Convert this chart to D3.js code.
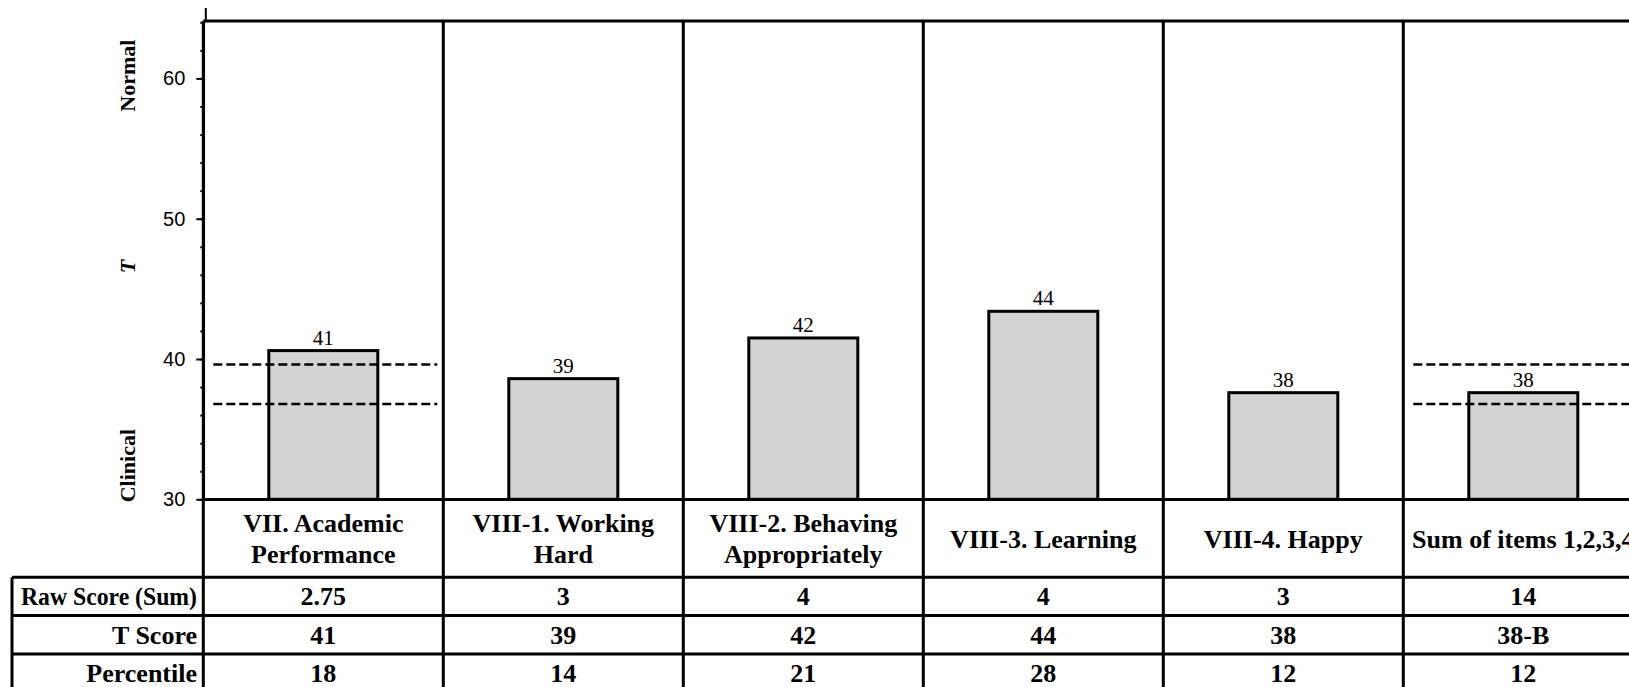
<!DOCTYPE html>
<html>
<head>
<meta charset="utf-8">
<script src="https://cdn.jsdelivr.net/npm/d3@7"></script>
<style>
  body { margin: 0; background: #fff; overflow: hidden; }
  text { fill: #000; }
</style>
</head>
<body>
<div id="chart"></div>
<script>
// data
var categories = [["VII. Academic", "Performance"], ["VIII-1. Working", "Hard"], ["VIII-2. Behaving", "Appropriately"], ["VIII-3. Learning"], ["VIII-4. Happy"], ["Sum of items 1,2,3,4"]];
var barHeights = [40.6, 38.6, 41.5, 43.4, 37.6, 37.6];
var barLabels = ["41", "39", "42", "44", "38", "38"];
var cutoffs = [39.6, 36.8];
var cutoffColumns = [0, 5];
var rowNames = ["Raw Score (Sum)", "T Score", "Percentile"];
var rawScores = ["2.75", "3", "4", "4", "3", "14"];
var tScores = ["41", "39", "42", "44", "38", "38-B"];
var percentiles = ["18", "14", "21", "28", "12", "12"];
var yTicks = [30, 40, 50, 60];
var yMinorTicks = d3.range(30, 65, 2);

var width = 1629, height = 687;
var left = 203.3, colW = 240, plotTop = 21;
var plotBottom = 499.5, labelBottom = 577.3, rowH = 38.3, tableLeft = 12;
var serif = "'Liberation Serif', 'Times New Roman', serif";
var sans = "'Liberation Sans', Arial, sans-serif";

var names = categories.map(function(d) { return d.join(" "); });
var rows = [rawScores, tScores, percentiles];

var x = d3.scaleBand()
    .domain(names)
    .range([left, left + colW * names.length])
    .padding(0);

var y = d3.scaleLinear()
    .domain([30, 64])
    .range([499.3, 22.3]);

var barW = 109;
var rightEdge = left + colW * names.length;

var svg = d3.select("#chart").append("svg")
    .attr("width", width)
    .attr("height", height)
    .style("display", "block");

svg.append("rect").attr("width", width).attr("height", height).attr("fill", "#fff");

// bars
svg.selectAll(".bar")
    .data(names)
    .enter().append("rect")
      .attr("class", "bar")
      .attr("x", function(d) { return x(d) + x.bandwidth() / 2 - barW / 2; })
      .attr("y", function(d, i) { return y(barHeights[i]); })
      .attr("width", barW)
      .attr("height", function(d, i) { return y(30) - y(barHeights[i]); })
      .attr("fill", "#d3d3d3")
      .attr("stroke", "#000")
      .attr("stroke-width", 3);

svg.selectAll(".barlabel")
    .data(names)
    .enter().append("text")
      .attr("class", "barlabel")
      .attr("x", function(d) { return x(d) + x.bandwidth() / 2; })
      .attr("y", function(d, i) { return y(barHeights[i]) - 6; })
      .attr("text-anchor", "middle")
      .style("font-family", serif)
      .style("font-size", "21px")
      .text(function(d, i) { return barLabels[i]; });

// dashed cutoff lines, only first and last column
cutoffColumns.forEach(function(ci) {
  svg.selectAll(null)
      .data(cutoffs)
      .enter().append("line")
        .attr("x1", x(names[ci]) + 10)
        .attr("x2", x(names[ci]) + colW - 6)
        .attr("y1", function(d) { return y(d); })
        .attr("y2", function(d) { return y(d); })
        .attr("stroke", "#000")
        .attr("stroke-width", 2.5)
        .attr("stroke-dasharray", "9,4");
});

// grid frame
var frame = svg.append("g").attr("stroke", "#000").attr("stroke-width", 3);

frame.append("line")
    .attr("x1", left).attr("x2", rightEdge)
    .attr("y1", plotTop).attr("y2", plotTop);

frame.append("line")
    .attr("x1", left).attr("x2", rightEdge)
    .attr("y1", plotBottom).attr("y2", plotBottom);

frame.selectAll(".col")
    .data(names.concat(["end"]))
    .enter().append("line")
      .attr("x1", function(d, i) { return left + i * colW; })
      .attr("x2", function(d, i) { return left + i * colW; })
      .attr("y1", plotTop)
      .attr("y2", height + 5);

frame.selectAll(".row")
    .data(d3.range(rows.length + 1))
    .enter().append("line")
      .attr("x1", tableLeft).attr("x2", rightEdge)
      .attr("y1", function(d) { return labelBottom + d * rowH; })
      .attr("y2", function(d) { return labelBottom + d * rowH; });

frame.append("line")
    .attr("x1", tableLeft).attr("x2", tableLeft)
    .attr("y1", labelBottom).attr("y2", height + 5);

// y axis
var yAxis = svg.append("g")
    .attr("transform", "translate(" + left + ",0)")
    .call(d3.axisLeft(y).tickValues(yTicks).tickSize(7).tickSizeOuter(0).tickPadding(11));

yAxis.select(".domain").attr("stroke-width", 2.5);
yAxis.selectAll(".tick line").attr("stroke-width", 2);
yAxis.selectAll(".tick text")
    .style("font-family", sans)
    .style("font-size", "20px")
    .attr("fill", "#000");

svg.append("g")
    .attr("transform", "translate(" + left + ",0)")
    .call(d3.axisLeft(y).tickValues(yMinorTicks).tickSize(3).tickSizeOuter(0).tickFormat(""))
    .call(function(g) { g.select(".domain").remove(); })
    .selectAll(".tick line").attr("stroke-width", 2);

svg.append("line")
    .attr("x1", left + 2.5).attr("x2", left + 2.5)
    .attr("y1", 8).attr("y2", plotTop)
    .attr("stroke", "#000").attr("stroke-width", 2);

// side labels
var sideLabels = [{t: "Normal", v: 60.2, it: false}, {t: "T", v: 46.6, it: true}, {t: "Clinical", v: 32.4, it: false}];
svg.selectAll(".side")
    .data(sideLabels)
    .enter().append("text")
      .attr("class", "side")
      .attr("transform", function(d) { return "translate(135," + y(d.v) + ") rotate(-90)"; })
      .attr("text-anchor", "middle")
      .style("font-family", serif)
      .style("font-size", "22px")
      .style("font-weight", "bold")
      .style("font-style", function(d) { return d.it ? "italic" : "normal"; })
      .text(function(d) { return d.t; });

// category labels
var cat = svg.selectAll(".cat")
    .data(categories)
    .enter().append("text")
      .attr("class", "cat")
      .attr("text-anchor", "middle")
      .style("font-family", serif)
      .style("font-size", "26px")
      .style("font-weight", "bold");

cat.selectAll("tspan")
    .data(function(d, i) { return d.map(function(s, j) { return {s: s, j: j, n: d.length, c: names[i]}; }); })
    .enter().append("tspan")
      .attr("x", function(d) { return x(d.c) + colW / 2; })
      .attr("y", function(d) { return d.n == 1 ? 548 : 532 + d.j * 31; })
      .text(function(d) { return d.s; });

// table
svg.selectAll(".rowname")
    .data(rowNames)
    .enter().append("text")
      .attr("class", "rowname")
      .attr("x", 197)
      .attr("y", function(d, i) { return labelBottom + i * rowH + 28; })
      .attr("text-anchor", "end")
      .style("font-family", serif)
      .style("font-size", "26px")
      .style("font-weight", "bold")
      .attr("textLength", function(d, i) { return i == 0 ? 176 : null; })
      .attr("lengthAdjust", "spacingAndGlyphs")
      .text(function(d) { return d; });

rows.forEach(function(vals, r) {
  svg.selectAll(null)
      .data(vals)
      .enter().append("text")
        .attr("x", function(d, i) { return x(names[i]) + colW / 2; })
        .attr("y", labelBottom + r * rowH + 28)
        .attr("text-anchor", "middle")
        .style("font-family", serif)
        .style("font-size", "26px")
        .style("font-weight", "bold")
        .text(function(d) { return d; });
});
</script>
</body>
</html>
